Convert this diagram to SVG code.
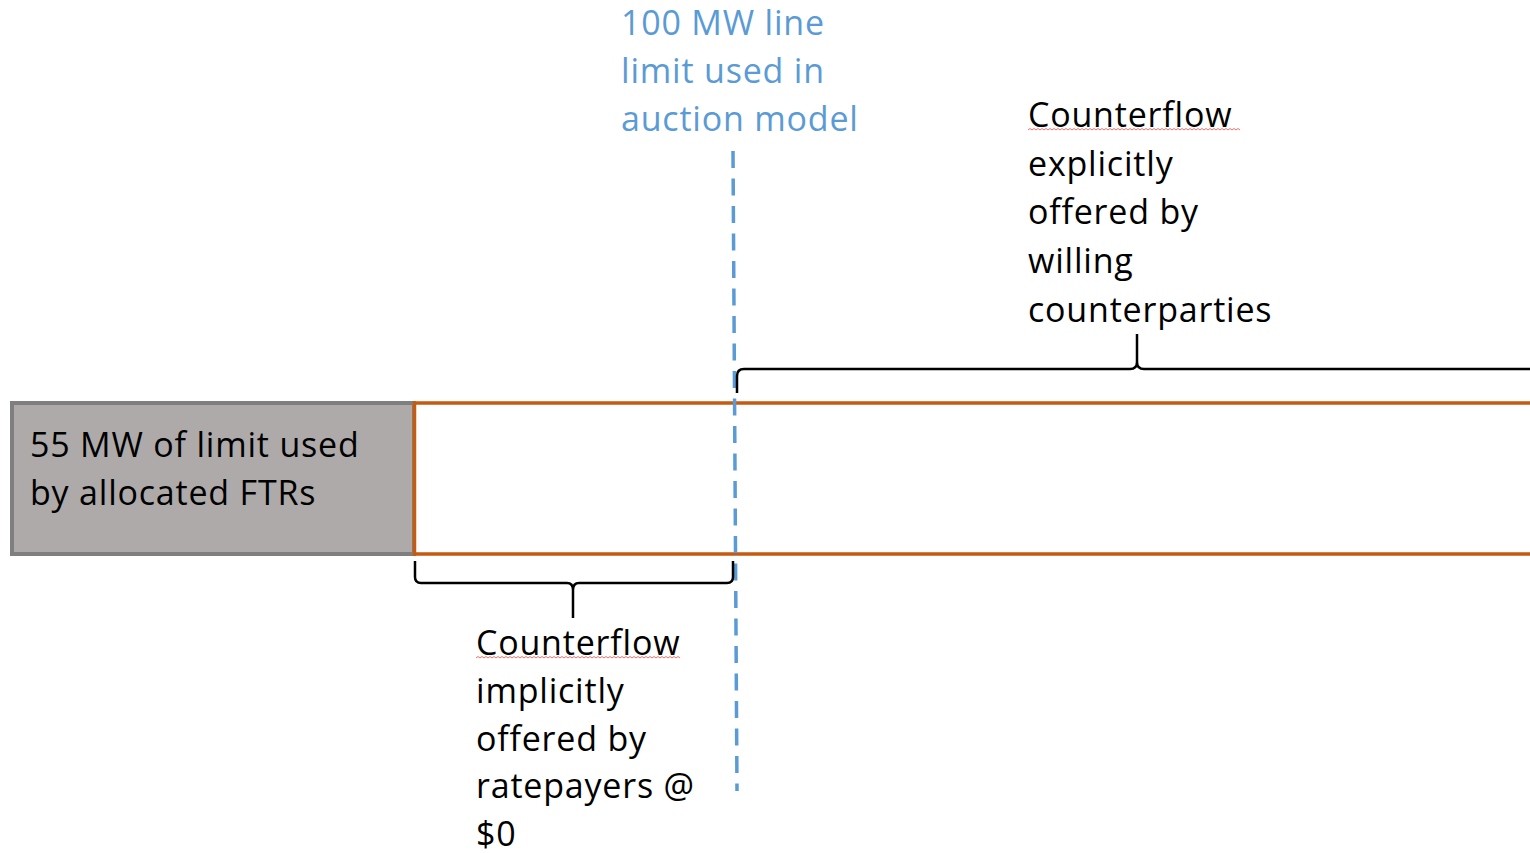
<svg xmlns="http://www.w3.org/2000/svg" width="1530" height="853" viewBox="0 0 1530 853">
<style>
.t{font-family:"Open Sans",Lato,"Liberation Sans",sans-serif;font-size:34px;letter-spacing:0.8px;fill:#000}
.b{fill:#5b9bd5}
.brace{fill:none;stroke:#000;stroke-width:2.5;stroke-linejoin:round}
.sq{fill:none;stroke:#f07070;stroke-width:1}
</style>
<rect width="1530" height="853" fill="#fff"/>
<g id="allocated">
<rect x="12" y="403" width="402" height="151" fill="#aeaaaa" stroke="#7f7f7f" stroke-width="4"/>
<text class="t" x="30"><tspan x="30" y="457">55 MW of limit used</tspan><tspan x="30" y="505">by allocated FTRs</tspan></text>
</g>
<g id="capacity">
<path d="M1534,403 H414.5 V554 H1534" fill="#fff" stroke="#c55a11" stroke-width="3.5"/>
</g>
<g id="limit-label">
<text class="t b" x="621"><tspan x="621" y="35">100 MW line</tspan><tspan x="621" y="83">limit used in</tspan><tspan x="621" y="131">auction model</tspan></text>
</g>
<g id="explicit-label">
<text class="t"><tspan x="1028" y="127">Counterflow</tspan><tspan x="1028" y="176">explicitly</tspan><tspan x="1028" y="224">offered by</tspan><tspan x="1028" y="273">willing</tspan><tspan x="1028" y="322">counterparties</tspan></text>
<path class="sq" d="M1028,130 l2,-1.5 2,1.5 2,-1.5 2,1.5 2,-1.5 2,1.5 2,-1.5 2,1.5 2,-1.5 2,1.5 2,-1.5 2,1.5 2,-1.5 2,1.5 2,-1.5 2,1.5 2,-1.5 2,1.5 2,-1.5 2,1.5 2,-1.5 2,1.5 2,-1.5 2,1.5 2,-1.5 2,1.5 2,-1.5 2,1.5 2,-1.5 2,1.5 2,-1.5 2,1.5 2,-1.5 2,1.5 2,-1.5 2,1.5 2,-1.5 2,1.5 2,-1.5 2,1.5 2,-1.5 2,1.5 2,-1.5 2,1.5 2,-1.5 2,1.5 2,-1.5 2,1.5 2,-1.5 2,1.5 2,-1.5 2,1.5 2,-1.5 2,1.5 2,-1.5 2,1.5 2,-1.5 2,1.5 2,-1.5 2,1.5 2,-1.5 2,1.5 2,-1.5 2,1.5 2,-1.5 2,1.5 2,-1.5 2,1.5 2,-1.5 2,1.5 2,-1.5 2,1.5 2,-1.5 2,1.5 2,-1.5 2,1.5 2,-1.5 2,1.5 2,-1.5 2,1.5 2,-1.5 2,1.5 2,-1.5 2,1.5 2,-1.5 2,1.5 2,-1.5 2,1.5 2,-1.5 2,1.5 2,-1.5 2,1.5 2,-1.5 2,1.5 2,-1.5 2,1.5 2,-1.5 2,1.5 2,-1.5 2,1.5 2,-1.5 2,1.5 2,-1.5 2,1.5 2,-1.5 2,1.5"/>
</g>
<g id="implicit-label">
<text class="t"><tspan x="476" y="655">Counterflow</tspan><tspan x="476" y="703">implicitly</tspan><tspan x="476" y="751">offered by</tspan><tspan x="476" y="798">ratepayers @</tspan><tspan x="476" y="846">$0</tspan></text>
<path class="sq" d="M476,658 l2,-1.5 2,1.5 2,-1.5 2,1.5 2,-1.5 2,1.5 2,-1.5 2,1.5 2,-1.5 2,1.5 2,-1.5 2,1.5 2,-1.5 2,1.5 2,-1.5 2,1.5 2,-1.5 2,1.5 2,-1.5 2,1.5 2,-1.5 2,1.5 2,-1.5 2,1.5 2,-1.5 2,1.5 2,-1.5 2,1.5 2,-1.5 2,1.5 2,-1.5 2,1.5 2,-1.5 2,1.5 2,-1.5 2,1.5 2,-1.5 2,1.5 2,-1.5 2,1.5 2,-1.5 2,1.5 2,-1.5 2,1.5 2,-1.5 2,1.5 2,-1.5 2,1.5 2,-1.5 2,1.5 2,-1.5 2,1.5 2,-1.5 2,1.5 2,-1.5 2,1.5 2,-1.5 2,1.5 2,-1.5 2,1.5 2,-1.5 2,1.5 2,-1.5 2,1.5 2,-1.5 2,1.5 2,-1.5 2,1.5 2,-1.5 2,1.5 2,-1.5 2,1.5 2,-1.5 2,1.5 2,-1.5 2,1.5 2,-1.5 2,1.5 2,-1.5 2,1.5 2,-1.5 2,1.5 2,-1.5 2,1.5 2,-1.5 2,1.5 2,-1.5 2,1.5 2,-1.5 2,1.5 2,-1.5 2,1.5 2,-1.5 2,1.5 2,-1.5 2,1.5 2,-1.5 2,1.5 2,-1.5 2,1.5 2,-1.5 2,1.5"/>
</g>
<g id="connectors">
<line x1="733" y1="151" x2="737" y2="791" stroke="#5b9bd5" stroke-width="3.5" stroke-dasharray="17,10.5"/>
<path class="brace" d="M415,561 V577 Q415,583 421,583 H567 Q573,583 573,590 V618 M573,590 Q573,583 579,583 H727 Q733,583 733,577 V561"/>
<path class="brace" d="M737,393 V376 Q737,369 744,369 H1130 Q1137,369 1137,362 V334 M1137,362 Q1137,369 1144,369 H1532"/>
</g>
</svg>
